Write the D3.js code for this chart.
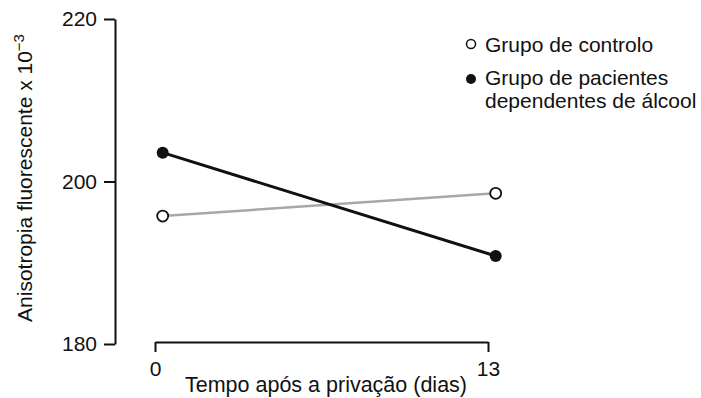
<!DOCTYPE html>
<html>
<head>
<meta charset="utf-8">
<style>
  body { margin: 0; background: #fff; }
  text { font-family: "Liberation Sans", Arial, Helvetica, sans-serif; fill: #111; }
</style>
</head>
<body>
<div id="chart"></div>
<script src="https://cdn.jsdelivr.net/npm/d3@7"></script>
<script>
// data
var days = [0.3, 13.3];
var controlo = [195.75, 198.55];
var pacientes = [203.55, 190.83];
var yTicks = [180, 200, 220];
var xTicks = [0, 13];
var legendLabels = [["Grupo de controlo"], ["Grupo de pacientes", "dependentes de álcool"]];

var width = 701, height = 398;
var svg = d3.select("#chart").append("svg")
  .attr("width", width).attr("height", height);

var x = d3.scaleLinear().domain([0, 13]).range([155, 488]);
var y = d3.scaleLinear().domain([180, 220]).range([344, 19]);

// y axis
var yAxis = svg.append("g")
  .attr("transform", "translate(115,0)")
  .call(d3.axisLeft(y).tickValues(yTicks).tickSize(11).tickSizeOuter(0).tickPadding(7));
yAxis.select(".domain").attr("stroke", "#111").attr("stroke-width", 2);
yAxis.selectAll(".tick line").attr("stroke", "#111").attr("stroke-width", 2);
yAxis.selectAll(".tick text").style("font-size", "21px").attr("fill", "#111");

// x axis
var xAxis = svg.append("g")
  .attr("transform", "translate(0,342)")
  .call(d3.axisBottom(x).tickValues(xTicks).tickSize(10).tickSizeOuter(0).tickPadding(9));
xAxis.select(".domain").attr("stroke", "#111").attr("stroke-width", 2);
xAxis.selectAll(".tick line").attr("stroke", "#111").attr("stroke-width", 2);
xAxis.selectAll(".tick text").style("font-size", "21px").attr("fill", "#111");

// axis titles
svg.append("text")
  .attr("x", 326).attr("y", 392)
  .attr("text-anchor", "middle")
  .style("font-size", "21.5px")
  .text("Tempo após a privação (dias)");

var yt = svg.append("text")
  .attr("transform", "translate(32,178) rotate(-90)")
  .attr("text-anchor", "middle")
  .style("font-size", "21px");
yt.append("tspan").text("Anisotropia fluorescente x 10");
yt.append("tspan").attr("dy", -8).style("font-size", "15px").text("−3");

// lines
var line = d3.line().x(function (d) { return x(d[0]); }).y(function (d) { return y(d[1]); });
var ctrlPts = days.map(function (d, i) { return [d, controlo[i]]; });
var pacPts = days.map(function (d, i) { return [d, pacientes[i]]; });

svg.append("path").datum(ctrlPts).attr("d", line)
  .attr("fill", "none").attr("stroke", "#a8a8a8").attr("stroke-width", 2.5);
svg.append("path").datum(pacPts).attr("d", line)
  .attr("fill", "none").attr("stroke", "#111").attr("stroke-width", 3);

svg.selectAll(".ctrl").data(ctrlPts).enter().append("circle")
  .attr("cx", function (d) { return x(d[0]); })
  .attr("cy", function (d) { return y(d[1]); })
  .attr("r", 5.5).attr("fill", "#fff").attr("stroke", "#111").attr("stroke-width", 1.8);
svg.selectAll(".pac").data(pacPts).enter().append("circle")
  .attr("cx", function (d) { return x(d[0]); })
  .attr("cy", function (d) { return y(d[1]); })
  .attr("r", 6).attr("fill", "#111");

// legend
var leg = svg.append("g").attr("transform", "translate(471,0)");
leg.append("circle").attr("cx", 0).attr("cy", 44).attr("r", 4.5)
  .attr("fill", "#fff").attr("stroke", "#111").attr("stroke-width", 1.5);
leg.append("circle").attr("cx", 0).attr("cy", 79).attr("r", 5).attr("fill", "#111");
var legY = [51.5, 85];
legendLabels.forEach(function (lines, i) {
  lines.forEach(function (t, j) {
    leg.append("text").attr("x", 14).attr("y", legY[i] + j * 23)
      .style("font-size", "21px").text(t);
  });
});
</script>
</body>
</html>
